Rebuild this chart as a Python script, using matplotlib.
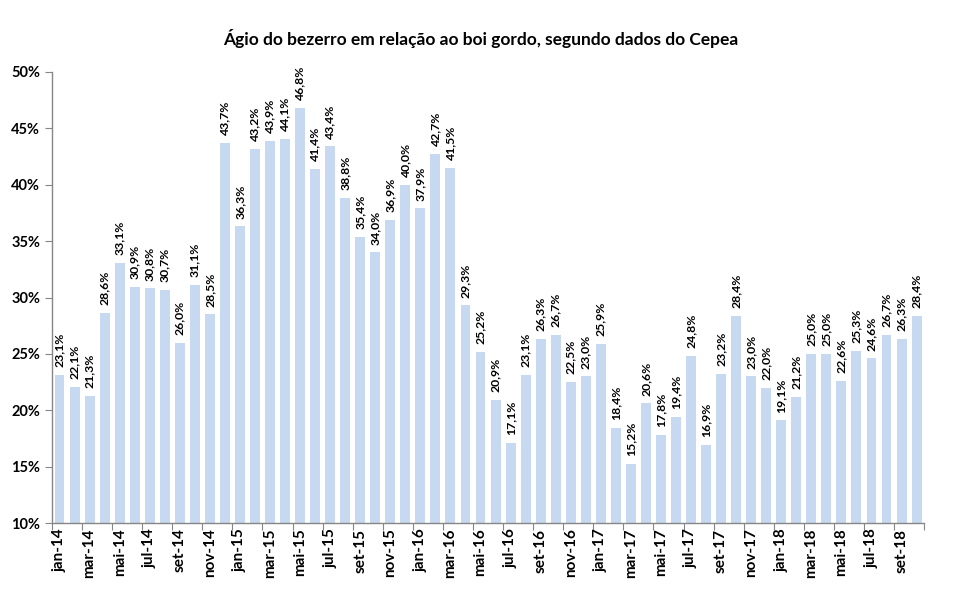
import matplotlib
matplotlib.use('Agg')
import matplotlib.pyplot as plt
from matplotlib.ticker import FixedLocator, FuncFormatter
import numpy as np

plt.rcParams['font.family'] = ['Lato', 'DejaVu Sans']

# === Data ===
months = ['jan', 'fev', 'mar', 'abr', 'mai', 'jun', 'jul', 'ago', 'set', 'out', 'nov', 'dez']
labels = [f'{m}-{y}' for y in ['14', '15', '16', '17', '18'] for m in months][:58]

agio = [
    23.1, 22.1, 21.3, 28.6, 33.1, 30.9, 30.8, 30.7, 26.0, 31.1, 28.5, 43.7,  # 2014
    36.3, 43.2, 43.9, 44.1, 46.8, 41.4, 43.4, 38.8, 35.4, 34.0, 36.9, 40.0,  # 2015
    37.9, 42.7, 41.5, 29.3, 25.2, 20.9, 17.1, 23.1, 26.3, 26.7, 22.5, 23.0,  # 2016
    25.9, 18.4, 15.2, 20.6, 17.8, 19.4, 24.8, 16.9, 23.2, 28.4, 23.0, 22.0,  # 2017
    19.1, 21.2, 25.0, 25.0, 22.6, 25.3, 24.6, 26.7, 26.3, 28.4,              # 2018
]

# === Plot ===
fig = plt.figure(figsize=(9.61, 5.94), dpi=100)
ax = fig.add_axes([0.0541, 0.1195, 0.9075, 0.7593])

x = np.arange(len(agio))
bars = ax.bar(x, agio, width=0.66, color='#C6D9F0')

# value labels, rotated like the original
for xi, v in zip(x, agio):
    ax.text(xi, v + 0.7, f'{v:.1f}%'.replace('.', ','), rotation=90,
            ha='center', va='bottom', fontsize=8.8, fontweight='bold', color='black')

ax.set_ylim(10, 50)
ax.set_xlim(-0.5, len(agio) - 0.5)
ax.set_yticks(range(10, 51, 5))
ax.yaxis.set_major_formatter(FuncFormatter(lambda v, p: f'{v:.0f}%'))

# ticks at category boundaries every 2 months, labels on first month of each pair
ax.xaxis.set_major_locator(FixedLocator(np.arange(-0.5, len(agio), 2)))
ax.xaxis.set_major_formatter(FuncFormatter(lambda v, p: ''))
ax.xaxis.set_minor_locator(FixedLocator(x[::2]))
ax.set_xticklabels(labels[::2], minor=True, rotation=90, fontsize=11, fontweight='bold')
ax.tick_params(axis='x', which='minor', length=0, pad=4)
ax.tick_params(axis='x', which='major', length=5, color='#868686')
ax.tick_params(axis='y', length=5, color='#868686', labelsize=10.5)
for lab in ax.get_yticklabels():
    lab.set_fontweight('bold')

for side in ['top', 'right']:
    ax.spines[side].set_visible(False)
for side in ['left', 'bottom']:
    ax.spines[side].set_color('#868686')
    ax.spines[side].set_linewidth(1.0)

fig.text(0.5, 0.935, 'Ágio do bezerro em relação ao boi gordo, segundo dados do Cepea',
         ha='center', va='center', fontsize=12.5, fontweight='bold')

plt.savefig('out.png', dpi=100)
